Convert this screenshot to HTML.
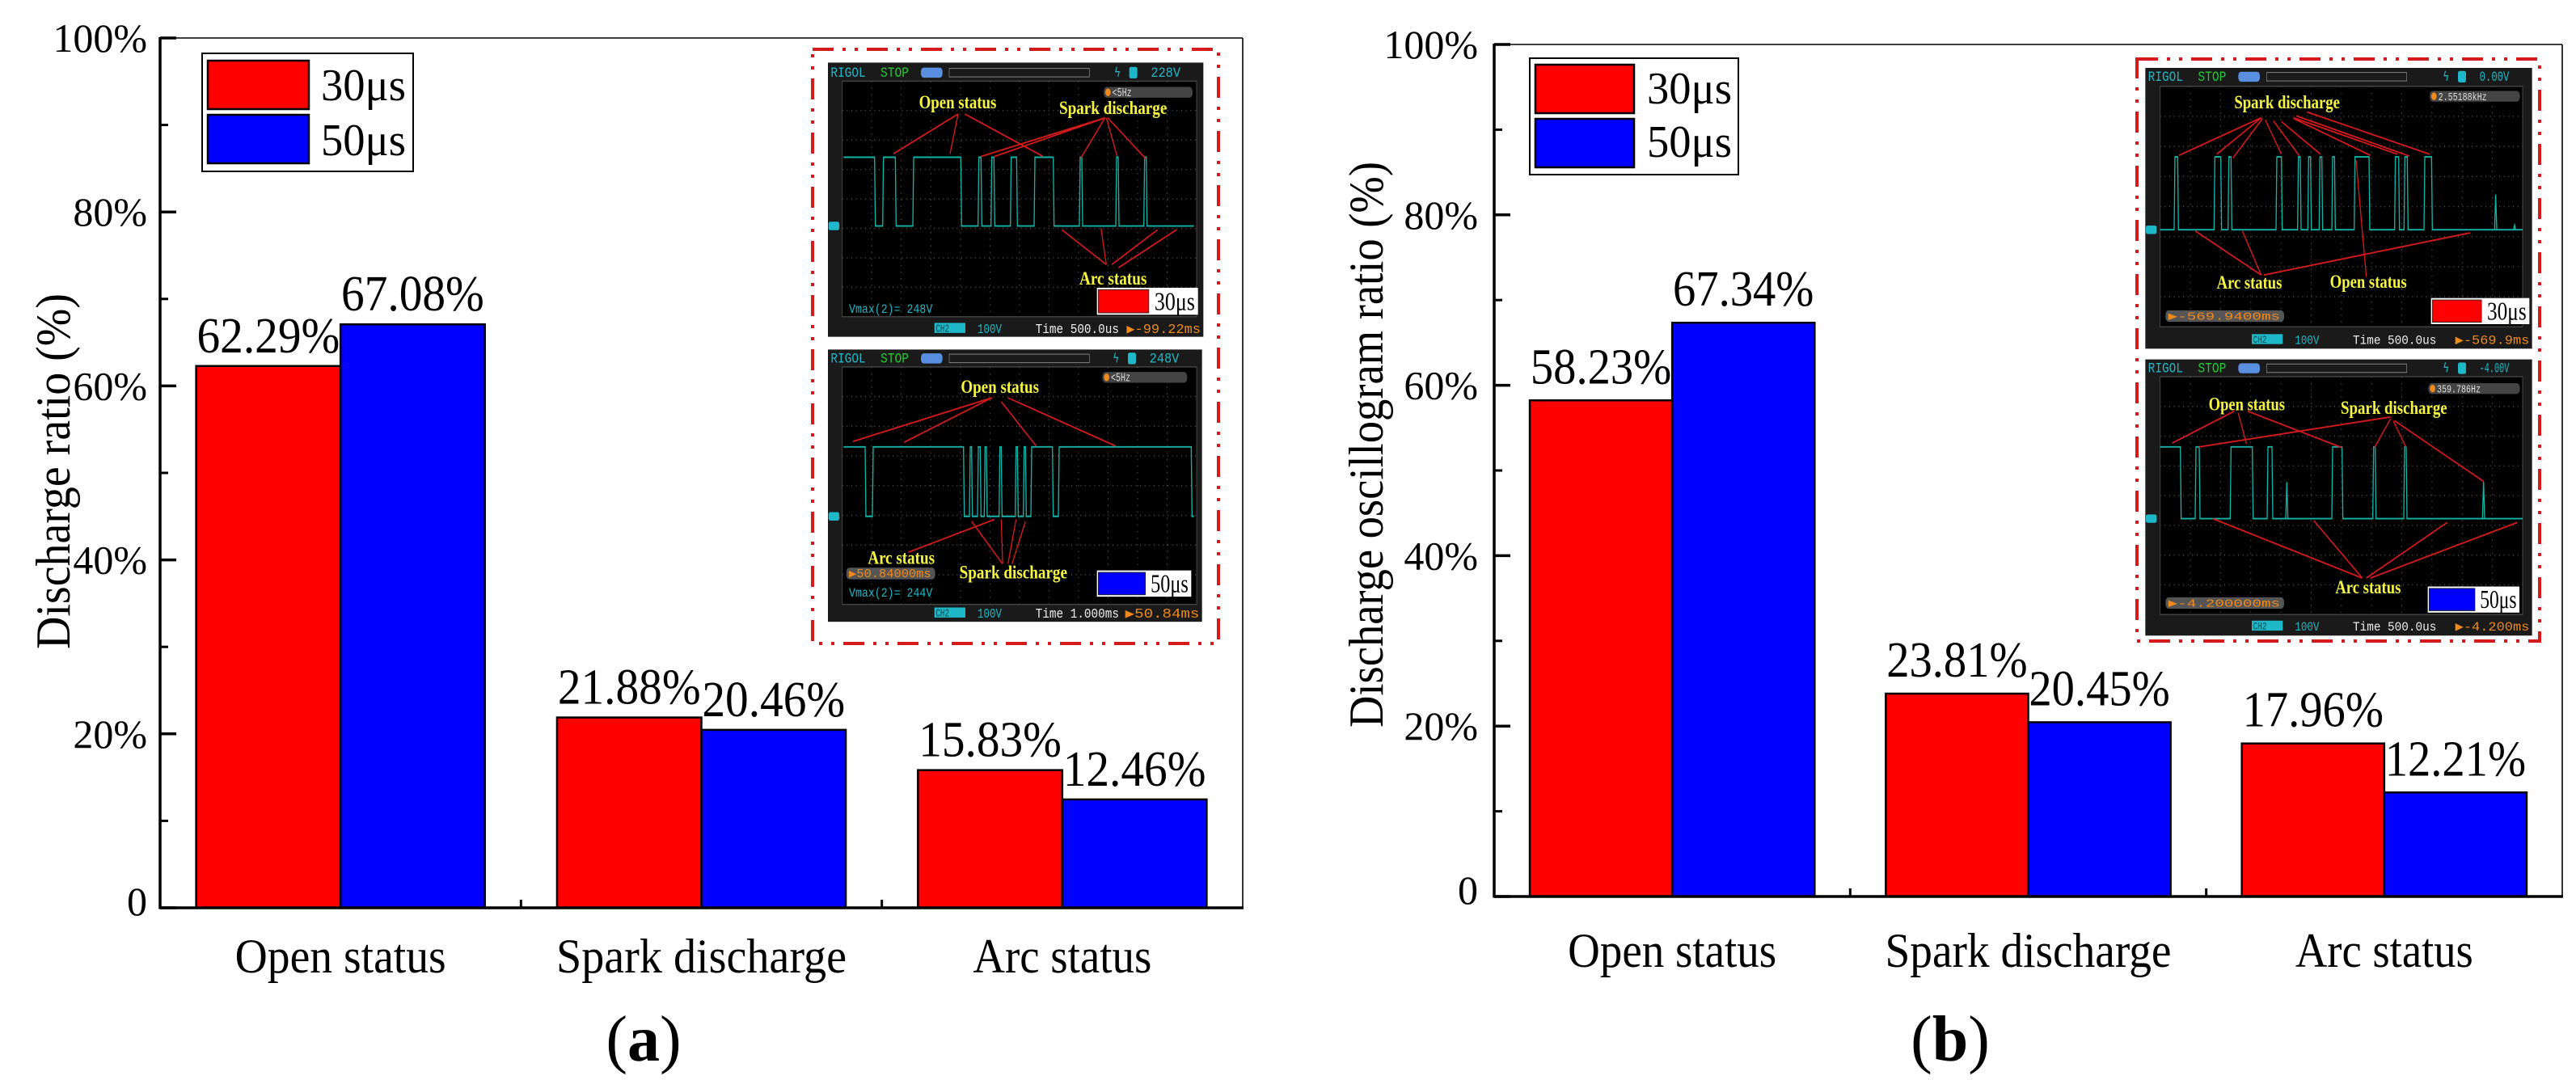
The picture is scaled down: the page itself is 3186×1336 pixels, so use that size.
<!DOCTYPE html>
<html><head><meta charset="utf-8"><title>Discharge ratio charts</title>
<style>
html,body{margin:0;padding:0;background:#fff;}
svg{display:block;}
</style></head>
<body>
<svg id="root" xmlns="http://www.w3.org/2000/svg" width="3186" height="1336" viewBox="0 0 3186 1336"></svg>
<script>
// ---------- chart data ----------
const categories = ["Open status", "Spark discharge", "Arc status"];
const seriesNames = ["30\u03bcs", "50\u03bcs"];
const valuesA30 = [62.29, 21.88, 15.83];
const valuesA50 = [67.08, 20.46, 12.46];
const valuesB30 = [58.23, 23.81, 17.96];
const valuesB50 = [67.34, 20.45, 12.21];
const tickValues = [0, 20, 40, 60, 80, 100];
const tickLabels = ["0", "20%", "40%", "60%", "80%", "100%"];
const minorTickValues = [10, 30, 50, 70, 90];

const NS = "http://www.w3.org/2000/svg";
const SERIF = "'Liberation Serif', 'Times New Roman', serif";
const MONO = "'Liberation Mono', monospace";
const root = document.getElementById("root");
function mk(parent, tag, attrs, name, inter) {
  const el = document.createElementNS(NS, tag);
  for (const k in attrs) {
    if (k === "class") {
      el.setAttribute("font-family", attrs[k] === "mono" ? MONO : SERIF);
    } else {
      el.setAttribute(k, attrs[k]);
    }
  }
  
  
  parent.appendChild(el);
  return el;
}
function txt(parent, x, y, s, attrs, name) {
  const a = Object.assign({x: x, y: y}, attrs);
  const t = mk(parent, "text", a, name, false);
  t.textContent = s;
  return t;
}

function drawPanel(P, v30, v50) {
  const g = mk(root, "g", {}, P.id, false);
  const yS = v => P.y0 - v / 100 * (P.y0 - P.y100);
  const catW = (P.xR - P.xL) / categories.length;
  const bw = catW * 0.4;
  const xC = i => P.xL + catW * (i + 0.5);
  mk(g, "line", {x1: P.xL, y1: P.y100, x2: P.xR, y2: P.y100, stroke: "#000", "stroke-width": 1.6}, "top-frame", false);
  mk(g, "line", {x1: P.xR, y1: P.y100, x2: P.xR, y2: P.y0, stroke: "#000", "stroke-width": 1.6}, "right-frame", false);
  const series = [v30, v50];
  const colors = ["#ff0000", "#0000ff"];
  for (let s = 0; s < 2; s++) {
    for (let i = 0; i < categories.length; i++) {
      const v = series[s][i];
      const x = s === 0 ? xC(i) - bw : xC(i);
      mk(g, "rect", {x: x, y: yS(v), width: bw, height: P.y0 - yS(v), fill: colors[s], stroke: "#000", "stroke-width": 2.5}, "bar-" + (s === 0 ? "30us" : "50us") + "-" + i, false);
      txt(g, x + bw / 2, yS(v) - P.lblOff, v.toFixed(2) + "%", {"font-size": 62, "text-anchor": "middle", "class": "serif", textLength: bw * 0.99, lengthAdjust: "spacingAndGlyphs"}, "value-label");
    }
  }
  mk(g, "line", {x1: P.xL, y1: P.y100 - 1, x2: P.xL, y2: P.y0 + 1.5, stroke: "#000", "stroke-width": 3.5}, "y-axis", false);
  mk(g, "line", {x1: P.xL, y1: P.y0, x2: P.xR + 1, y2: P.y0, stroke: "#000", "stroke-width": 3.5}, "x-axis", false);
  tickValues.forEach((v, i) => {
    mk(g, "line", {x1: P.xL, y1: yS(v), x2: P.xL + 20, y2: yS(v), stroke: "#000", "stroke-width": 3.5}, "y-major-tick", false);
    txt(g, P.lblR, yS(v) + 17 - (v === 0 ? 8 : 0), tickLabels[i], {"font-size": 50, "text-anchor": "end", "class": "serif"}, "y-tick-label");
  });
  minorTickValues.forEach(v => {
    mk(g, "line", {x1: P.xL, y1: yS(v), x2: P.xL + 10, y2: yS(v), stroke: "#000", "stroke-width": 3}, "y-minor-tick", false);
  });
  for (let i = 1; i < categories.length; i++) {
    const x = P.xL + catW * i;
    mk(g, "line", {x1: x, y1: P.y0, x2: x, y2: P.y0 - 10, stroke: "#000", "stroke-width": 3}, "x-tick", false);
  }
  categories.forEach((c, i) => {
    txt(g, xC(i), P.catY, c, {"font-size": 60, "text-anchor": "middle", "class": "serif", textLength: P.catLen[i], lengthAdjust: "spacingAndGlyphs"}, "x-category-label");
  });
  txt(g, 0, 0, P.ytitle, {"font-size": 60, "text-anchor": "middle", "class": "serif", textLength: P.ytLen, lengthAdjust: "spacingAndGlyphs", transform: "translate(" + P.ytX + "," + P.ytY + ") rotate(-90)"}, "y-axis-title");
  const L = P.leg;
  const lg = mk(g, "g", {}, "legend", false);
  mk(lg, "rect", {x: L.x, y: L.y, width: L.w, height: L.h, fill: "#fff", stroke: "#000", "stroke-width": 2}, "legend-box", false);
  mk(lg, "rect", {x: L.sx, y: L.r1, width: L.sw, height: L.sh, fill: "#ff0000", stroke: "#000", "stroke-width": 2.5}, "legend-swatch-30us", false);
  mk(lg, "rect", {x: L.sx, y: L.r2, width: L.sw, height: L.sh, fill: "#0000ff", stroke: "#000", "stroke-width": 2.5}, "legend-swatch-50us", false);
  txt(lg, L.tx, L.b1, seriesNames[0], {"font-size": 56, "class": "serif", textLength: 105, lengthAdjust: "spacingAndGlyphs"}, "legend-entry-30us");
  txt(lg, L.tx, L.b2, seriesNames[1], {"font-size": 56, "class": "serif", textLength: 105, lengthAdjust: "spacingAndGlyphs"}, "legend-entry-50us");
  const pl = mk(g, "text", {x: P.letX, y: 1312, "font-size": 80, "text-anchor": "middle", "class": "serif"}, "panel-label", false);
  pl.innerHTML = '(<tspan font-weight="bold">' + P.letter + '</tspan>)';
  return g;
}

drawPanel({id: "panel-a", xL: 198, xR: 1537, y0: 1123, y100: 47, lblOff: 17, lblR: 182,
  catY: 1203, catLen: [261, 359, 221], ytitle: "Discharge ratio (%)", ytLen: 440, ytX: 86, ytY: 583,
  leg: {x: 250, y: 66, w: 261, h: 146, sx: 257, sw: 125, sh: 60, r1: 75, r2: 142, tx: 397, b1: 124, b2: 192},
  letter: "a", letX: 796}, valuesA30, valuesA50);
drawPanel({id: "panel-b", xL: 1848, xR: 3169, y0: 1109, y100: 55, lblOff: 21, lblR: 1828,
  catY: 1196, catLen: [258, 354, 220], ytitle: "Discharge oscillogram ratio (%)", ytLen: 700, ytX: 1710, ytY: 550,
  leg: {x: 1892, y: 72, w: 258, h: 144, sx: 1899, sw: 122, sh: 60, r1: 80, r2: 147, tx: 2037, b1: 128, b2: 194},
  letter: "b", letX: 2412}, valuesB30, valuesB50);

// ---------- oscilloscope insets (decorative photos) ----------
function wavePath(hs, x0, x1, yh, yl) {
  let d = "M" + x0 + "," + (hs[0][0] <= x0 ? yh : yl);
  hs.forEach(h => {
    if (h[0] > x0) d += "L" + (h[0] - 3) + "," + yl + "L" + h[0] + "," + yh;
    d += "L" + h[1] + "," + yh;
    if (h[1] < x1) d += "L" + (h[1] + 3) + "," + yl;
  });
  d += "L" + x1 + "," + yl;
  return d;
}
function scope(parent, S) {
  const g = mk(parent, "g", {}, "oscilloscope-screen", false);
  const [bx0, by0, bx1, by1] = S.box;
  mk(g, "rect", {x: bx0, y: by0, width: bx1 - bx0, height: by1 - by0, fill: "#1a1a1a"}, "screen-bezel", false);
  const [gx0, gy0, gx1, gy1] = S.grid;
  mk(g, "rect", {x: gx0, y: gy0, width: gx1 - gx0, height: gy1 - gy0, fill: "#000", stroke: "#444", "stroke-width": 3}, "screen-graticule", false);
  for (let k = 1; k < 12; k++) {
    const x = gx0 + (gx1 - gx0) * k / 12;
    mk(g, "line", {x1: x, y1: gy0, x2: x, y2: gy1, stroke: "#555", "stroke-width": 3, "stroke-dasharray": "3 14"}, "grid-line", false);
  }
  for (let k = 1; k < 8; k++) {
    const y = gy0 + (gy1 - gy0) * k / 8;
    mk(g, "line", {x1: gx0, y1: y, x2: gx1, y2: y, stroke: "#555", "stroke-width": 3, "stroke-dasharray": "3 14"}, "grid-line", false);
  }
  const ty = S.topY;
  txt(g, bx0 + 10, ty + 12, "RIGOL", {"class": "mono", "font-size": 36, fill: "#1fb8c8", textLength: 130, lengthAdjust: "spacingAndGlyphs"}, "brand-text");
  txt(g, bx0 + 195, ty + 12, "STOP", {"class": "mono", "font-size": 36, fill: "#22cc33", textLength: 105, lengthAdjust: "spacingAndGlyphs"}, "stop-text");
  mk(g, "rect", {x: bx0 + 345, y: ty - 12, width: 80, height: 26, rx: 10, fill: "#5a8fe0"}, "battery-icon", false);
  mk(g, "rect", {x: bx0 + 450, y: ty - 10, width: 520, height: 22, fill: "none", stroke: "#888", "stroke-width": 2}, "memory-bar", false);
  txt(g, bx1 - 330, ty + 12, "\u03df", {"class": "mono", "font-size": 36, fill: "#1fb8c8"}, "trigger-icon");
  mk(g, "rect", {x: bx1 - 275, y: ty - 14, width: 30, height: 30, rx: 6, fill: "#1fb8c8"}, "channel-icon", false);
  txt(g, bx1 - 195, ty + 12, S.topRight, {"class": "mono", "font-size": 36, fill: "#1fb8c8", textLength: 110, lengthAdjust: "spacingAndGlyphs"}, "trigger-level");
  mk(g, "rect", {x: S.freq[0], y: S.freq[1], width: S.freq[2], height: 28, rx: 12, fill: "#444"}, "frequency-pill", false);
  mk(g, "circle", {cx: S.freq[0] + 16, cy: S.freq[1] + 14, r: 10, fill: "#f08a1c"}, "freq-icon", false);
  txt(g, S.freq[0] + 32, S.freq[1] + 24, S.freq[3], {"class": "mono", "font-size": 30, fill: "#ddd"}, "frequency-text");
  const by = S.botY;
  mk(g, "rect", {x: bx0 + 395, y: by - 14, width: 115, height: 26, fill: "#1fb8c8"}, "ch2-badge", false);
  txt(g, bx0 + 400, by + 9, "CH2", {"class": "mono", "font-size": 28, fill: "#06454d"}, "ch2-text");
  txt(g, bx0 + 555, by + 12, "100V", {"class": "mono", "font-size": 34, fill: "#1fb8c8", textLength: 90, lengthAdjust: "spacingAndGlyphs"}, "volt-div");
  txt(g, bx0 + 770, by + 12, S.time, {"class": "mono", "font-size": 34, fill: "#eee", textLength: 310, lengthAdjust: "spacingAndGlyphs"}, "time-div");
  txt(g, bx1 - 285, by + 12, S.trig, {"class": "mono", "font-size": 34, fill: "#f08a1c", textLength: 275, lengthAdjust: "spacingAndGlyphs"}, "trigger-position");
  mk(g, "rect", {x: bx0 + 2, y: S.lo - 11, width: 40, height: 22, rx: 6, fill: "#1fb8c8"}, "ground-marker", false);
  mk(g, "path", {d: wavePath(S.wave, S.wx[0], S.wx[1], S.hi, S.lo), fill: "none", stroke: "#14b3a8", "stroke-width": 4}, "waveform", false);
  (S.small || []).forEach(s => {
    mk(g, "path", {d: "M" + (s[0] - 4) + "," + S.lo + "L" + s[0] + "," + s[1] + "L" + (s[0] + 4) + "," + S.lo, fill: "none", stroke: "#14b3a8", "stroke-width": 4}, "waveform-spike", false);
  });
  S.lines.forEach(l => {
    mk(g, "line", {x1: l[0], y1: l[1], x2: l[2], y2: l[3], stroke: "#d41a1a", "stroke-width": 4}, "annotation-line", false);
  });
  (S.misc || []).forEach(m => {
    txt(g, m[0], m[1], m[2], {"class": "mono", "font-size": 32, fill: m[3], textLength: m[4], lengthAdjust: "spacingAndGlyphs"}, "screen-readout");
  });
  (S.pills || []).forEach(p => {
    mk(g, "rect", {x: p[0], y: p[1], width: p[2], height: 30, rx: 12, fill: "#555"}, "readout-pill", false);
    txt(g, p[0] + 10, p[1] + 25, p[3], {"class": "mono", "font-size": 30, fill: "#f08a1c", textLength: p[2] - 25, lengthAdjust: "spacingAndGlyphs"}, "readout-pill-text");
  });
  S.labels.forEach(l => {
    txt(g, l[0], l[1], l[2], {"class": "serif", "font-size": 48, "font-weight": "bold", fill: "#f5f542", textLength: l[3], lengthAdjust: "spacingAndGlyphs"}, "annotation-label");
  });
  const L = S.legend;
  mk(g, "rect", {x: L[0], y: L[1], width: L[2], height: L[3], fill: "#fff"}, "inset-legend", false);
  mk(g, "rect", {x: L[0] + 5, y: L[1] + 5, width: L[2] * 0.5, height: L[3] - 10, fill: L[4], stroke: "#222", "stroke-width": 2}, "inset-legend-swatch", false);
  txt(g, L[0] + L[2] * 0.57, L[1] + L[3] - 12, L[5], {"class": "serif", "font-size": 66, fill: "#000", textLength: L[2] * 0.4, lengthAdjust: "spacingAndGlyphs"}, "inset-legend-label");
}
function inset(x, y, w, h, screens, name) {
  const s = mk(root, "svg", {x: x, y: y, width: w, height: h, viewBox: "0 0 1560 1570", preserveAspectRatio: "none"}, name, false);
  screens.forEach(S => scope(s, S));
}
function dashedBox(x0, y0, x1, y1, name) {
  mk(root, "rect", {x: x0, y: y0, width: x1 - x0, height: y1 - y0, fill: "none", stroke: "#d41a1a", "stroke-width": 4, "stroke-dasharray": "26 11 4 11 4 11"}, name, false);
}

dashedBox(1005, 61, 1507, 796, "inset-border-a");
inset(1000, 55, 520, 750, [
  {box: [72, 47, 1465, 757], grid: [125, 95, 1440, 705], hi: 292, lo: 470, wx: [130, 1430],
   wave: [[130, 245], [278, 322], [390, 565], [632, 640], [680, 688], [752, 772], [840, 908], [1008, 1014], [1143, 1149], [1247, 1253]],
   topY: 72, botY: 735, topRight: "228V", freq: [1095, 110, 330, "<5Hz"], time: "Time 500.0us", trig: "\u25b6-99.22ms",
   misc: [[150, 695, "Vmax(2)= 248V", "#1fb8c8", 310]],
   labels: [[410, 165, "Open status", 287], [930, 180, "Spark discharge", 400], [1005, 622, "Arc status", 250]],
   lines: [[555, 180, 315, 283], [555, 180, 525, 283], [580, 180, 870, 290], [1100, 190, 640, 290], [1100, 190, 690, 290], [1100, 190, 1010, 295], [1105, 190, 1145, 290], [1110, 190, 1250, 295], [1105, 570, 940, 480], [1105, 570, 1085, 475], [1125, 570, 1295, 480], [1150, 578, 1365, 480]],
   legend: [1070, 630, 375, 70, "#ff0000", "30\u03bcs"]},
  {box: [72, 790, 1460, 1495], grid: [125, 835, 1440, 1450], hi: 1042, lo: 1222, wx: [130, 1430],
   wave: [[130, 210], [240, 575], [600, 605], [630, 637], [655, 660], [710, 715], [770, 775], [800, 805], [828, 905], [930, 1420]],
   topY: 812, botY: 1472, topRight: "248V", freq: [1090, 848, 315, "<5Hz"], time: "Time 1.000ms", trig: "\u25b650.84ms",
   misc: [[150, 1430, "Vmax(2)= 244V", "#1fb8c8", 310]],
   pills: [[140, 1355, 330, "\u25b650.84000ms"]],
   labels: [[565, 902, "Open status", 290], [220, 1345, "Arc status", 248], [560, 1383, "Spark discharge", 400]],
   lines: [[680, 915, 165, 1028], [680, 915, 355, 1030], [715, 925, 845, 1040], [740, 915, 1140, 1040], [370, 1315, 690, 1230], [720, 1345, 605, 1235], [720, 1345, 715, 1230], [740, 1345, 770, 1230], [755, 1345, 805, 1235]],
   legend: [1070, 1362, 350, 68, "#0000ff", "50\u03bcs"]}
], "oscilloscope-inset-a");

dashedBox(2643, 73, 3141, 793, "inset-border-b");
inset(2640, 65, 520, 745, [
  {box: [40, 40, 1475, 772], grid: [95, 88, 1440, 715], hi: 272, lo: 462, wx: [95, 1440],
   wave: [[150, 160], [298, 320], [350, 358], [528, 545], [608, 615], [646, 653], [688, 695], [735, 742], [818, 870], [968, 980], [1003, 1012], [1077, 1102]],
   small: [[1340, 370], [1410, 450]],
   topY: 62, botY: 748, topRight: "0.00V", freq: [1095, 100, 335, "2.55188kHz"], time: "Time 500.0us", trig: "\u25b6-569.9ms",
   pills: [[115, 672, 440, "\u25b6-569.9400ms"]],
   labels: [[370, 145, "Spark discharge", 392], [305, 615, "Arc status", 242], [725, 613, "Open status", 285]],
   lines: [[470, 170, 165, 268], [470, 170, 305, 265], [475, 172, 365, 275], [485, 175, 545, 265], [515, 178, 612, 270], [545, 180, 690, 265], [590, 170, 975, 265], [600, 165, 1020, 270], [640, 155, 1095, 265], [590, 172, 875, 268], [470, 580, 225, 465], [470, 580, 400, 465], [480, 580, 1245, 470], [860, 585, 822, 280]],
   legend: [1100, 640, 365, 68, "#ff0000", "30\u03bcs"]},
  {box: [40, 800, 1475, 1520], grid: [95, 845, 1440, 1465], hi: 1028, lo: 1215, wx: [95, 1440],
   wave: [[95, 170], [228, 240], [358, 437], [495, 510], [735, 770], [887, 893], [1002, 1008]],
   small: [[565, 1120], [1295, 1118]],
   topY: 822, botY: 1495, topRight: "-4.00V", freq: [1090, 862, 340, "359.786Hz"], time: "Time 500.0us", trig: "\u25b6-4.200ms",
   pills: [[115, 1420, 440, "\u25b6-4.200000ms"]],
   labels: [[275, 933, "Open status", 283], [765, 942, "Spark discharge", 395], [745, 1410, "Arc status", 243]],
   lines: [[370, 935, 140, 1018], [385, 940, 415, 1020], [420, 935, 770, 1030], [950, 950, 240, 1028], [950, 955, 890, 1030], [960, 960, 1008, 1030], [965, 960, 1295, 1118], [845, 1370, 290, 1215], [845, 1370, 665, 1220], [860, 1370, 1160, 1225], [875, 1370, 1420, 1225]],
   legend: [1088, 1392, 340, 68, "#0000ff", "50\u03bcs"]}
], "oscilloscope-inset-b");
</script>
</body></html>
